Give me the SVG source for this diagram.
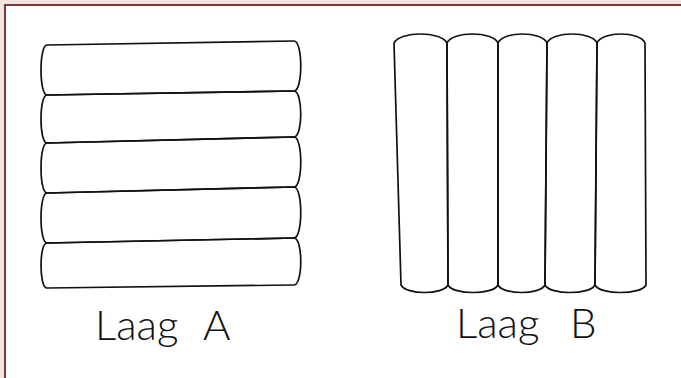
<svg xmlns="http://www.w3.org/2000/svg" width="681" height="378" viewBox="0 0 681 378">
<style>
.sk{fill:none;stroke:#111;stroke-width:1.7;stroke-linejoin:round;stroke-linecap:round}
.lbl{font-family:Lato,"Liberation Sans",sans-serif;font-weight:300;font-size:42px;fill:#111}
</style>
<rect x="0" y="0" width="681" height="378" fill="#efe5dc"/>
<rect x="5" y="5" width="700" height="400" fill="#fff" stroke="#7b3838" stroke-width="2"/>
<g id="laagA">
<path class="sk" d="M47 45 L294 41 C303 41 303 91 294 91 L47 95 C39 95 39 45 47 45 Z"/>
<path class="sk" d="M47 95 L294 91 C303 91 303 137 294 137 L47 143 C39 143 39 95 47 95 Z"/>
<path class="sk" d="M47 143 L294 137 C303 137 303 187 294 187 L47 193 C39 193 39 143 47 143 Z"/>
<path class="sk" d="M47 193 L294 187 C303 187 303 238 294 238 L47 243 C39 243 39 193 47 193 Z"/>
<path class="sk" d="M47 243 L294 238 C303 238 303 285 294 285 L47 288 C39 288 39 243 47 243 Z"/>
<text class="lbl" x="95" y="340">Laag<tspan x="203">A</tspan></text>
</g>
<g id="laagB">
<path class="sk" d="M394 43 C400 31 441 31 447 43 L448 285 C443 295 406 295 401 285 Z"/>
<path class="sk" d="M447 43 C452 31 493 31 498 43 L498 285 C493 295 453 295 448 285 Z"/>
<path class="sk" d="M498 43 C503 31 542 31 547 43 L545 285 C540 295 503 295 498 285 Z"/>
<path class="sk" d="M547 43 C552 31 592 31 597 43 L595 285 C590 295 550 295 545 285 Z"/>
<path class="sk" d="M597 43 C602 31 640 31 645 43 L646 285 C641 295 600 295 595 285 Z"/>
<text class="lbl" x="456" y="338">Laag<tspan x="570">B</tspan></text>
</g>
</svg>
